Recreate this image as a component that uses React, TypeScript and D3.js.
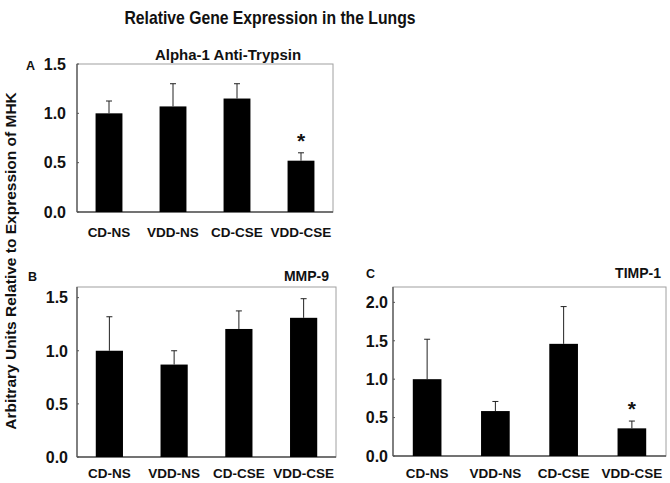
import React from "react";
import * as d3 from "d3";

const categories = ["CD-NS", "VDD-NS", "CD-CSE", "VDD-CSE"];

const aatValues = [1.0, 1.07, 1.15, 0.52];
const aatErrors = [0.125, 0.23, 0.15, 0.08];
const aatSignificant = [false, false, false, true];

const mmp9Values = [1.0, 0.87, 1.205, 1.31];
const mmp9Errors = [0.32, 0.13, 0.17, 0.18];
const mmp9Significant = [false, false, false, false];

const timp1Values = [1.0, 0.585, 1.46, 0.36];
const timp1Errors = [0.52, 0.125, 0.485, 0.095];
const timp1Significant = [false, false, false, true];

const aatTicks = ["0.0", "0.5", "1.0", "1.5"];
const mmp9Ticks = ["0.0", "0.5", "1.0", "1.5"];
const timp1Ticks = ["0.0", "0.5", "1.0", "1.5", "2.0"];

const FONT = "'Liberation Sans', Arial, Helvetica, sans-serif";

type PanelProps = {
  letter: string;
  title: string;
  values: number[];
  errors: number[];
  sig: boolean[];
  ticks: string[];
  yMax: number;
  left: number;
  right: number;
  top: number;
  bottom: number;
  letterX: number;
  letterY: number;
  titleX: number;
  titleY: number;
  titleAnchor: "start" | "middle" | "end";
  titleSize: number;
  labelY: number;
  tickGap: number;
};

function Panel(p: PanelProps) {
  const x = d3.scaleBand<string>().domain(categories).range([p.left, p.right]).padding(0);
  const y = d3.scaleLinear().domain([0, p.yMax]).range([p.bottom, p.top]);
  const barW = x.bandwidth() * 0.42;
  const cap = 3;
  return (
    <g>
      <rect x={p.left} y={p.top} width={p.right - p.left} height={p.bottom - p.top} fill="none" stroke="#a0a0a0" strokeWidth={1} />
      <line x1={p.left} x2={p.left} y1={p.top} y2={p.bottom} stroke="#555" strokeWidth={1.3} />
      <line x1={p.left} x2={p.right} y1={p.bottom} y2={p.bottom} stroke="#555" strokeWidth={1.3} />
      {p.ticks.map((t) => (
        <g key={t}>
          <line x1={p.left} x2={p.left + 2} y1={y(+t)} y2={y(+t)} stroke="#555" />
          <text x={p.left - p.tickGap} y={y(+t)} dy="0.36em" textAnchor="end" fontSize={16} fontWeight="bold" fontFamily={FONT} fill="#111">
            {t}
          </text>
        </g>
      ))}
      {categories.map((c, i) => {
        const cx = (x(c) as number) + x.bandwidth() / 2;
        const v = p.values[i];
        const e = p.values[i] + p.errors[i];
        return (
          <g key={c}>
            <rect x={cx - barW / 2} y={y(v)} width={barW} height={y(0) - y(v)} fill="#000" />
            <line x1={cx} x2={cx} y1={y(v)} y2={y(e)} stroke="#222" strokeWidth={1} />
            <line x1={cx - cap} x2={cx + cap} y1={y(e)} y2={y(e)} stroke="#222" strokeWidth={1} />
            {p.sig[i] && (
              <text x={cx} y={y(e) - 5} textAnchor="middle" fontSize={21} fontWeight="bold" fontFamily={FONT} fill="#111">
                *
              </text>
            )}
            <text x={cx} y={p.labelY} textAnchor="middle" fontSize={13.5} fontWeight="bold" fontFamily={FONT} fill="#111">
              {c}
            </text>
          </g>
        );
      })}
      <text x={p.letterX} y={p.letterY} fontSize={12.5} fontWeight="bold" fontFamily={FONT} fill="#111">
        {p.letter}
      </text>
      <text x={p.titleX} y={p.titleY} textAnchor={p.titleAnchor} fontSize={p.titleSize} fontWeight="bold" fontFamily={FONT} fill="#111">
        {p.title}
      </text>
    </g>
  );
}

export default function App() {
  return (
    <svg width={670} height={483} style={{ display: "block", position: "absolute", left: 0, top: 0, background: "#fff" }}>
      <rect x={0} y={0} width={670} height={483} fill="#fff" />
      <text transform="translate(270,24) scale(0.9,1)" textAnchor="middle" fontSize={17.5} fontWeight="bold" fontFamily={FONT} fill="#111">
        Relative Gene Expression in the Lungs
      </text>
      <text transform="translate(16,261) rotate(-90)" textAnchor="middle" fontSize={15.5} fontWeight="bold" fontFamily={FONT} fill="#111">
        Arbitrary Units Relative to Expression of MHK
      </text>
      <Panel letter="A" title="Alpha-1 Anti-Trypsin" values={aatValues} errors={aatErrors} sig={aatSignificant} ticks={aatTicks} yMax={1.5}
        left={77} right={333} top={64} bottom={212} letterX={26} letterY={70} titleX={228} titleY={60} titleAnchor="middle" titleSize={15}
        labelY={237} tickGap={11} />
      <Panel letter="B" title="MMP-9" values={mmp9Values} errors={mmp9Errors} sig={mmp9Significant} ticks={mmp9Ticks} yMax={1.6}
        left={77} right={336} top={287} bottom={457} letterX={28} letterY={281} titleX={329} titleY={281} titleAnchor="end" titleSize={14}
        labelY={478} tickGap={9} />
      <Panel letter="C" title="TIMP-1" values={timp1Values} errors={timp1Errors} sig={timp1Significant} ticks={timp1Ticks} yMax={2.2}
        left={393} right={666} top={287} bottom={456} letterX={366} letterY={278} titleX={661} titleY={278} titleAnchor="end" titleSize={14}
        labelY={478} tickGap={5} />
    </svg>
  );
}
